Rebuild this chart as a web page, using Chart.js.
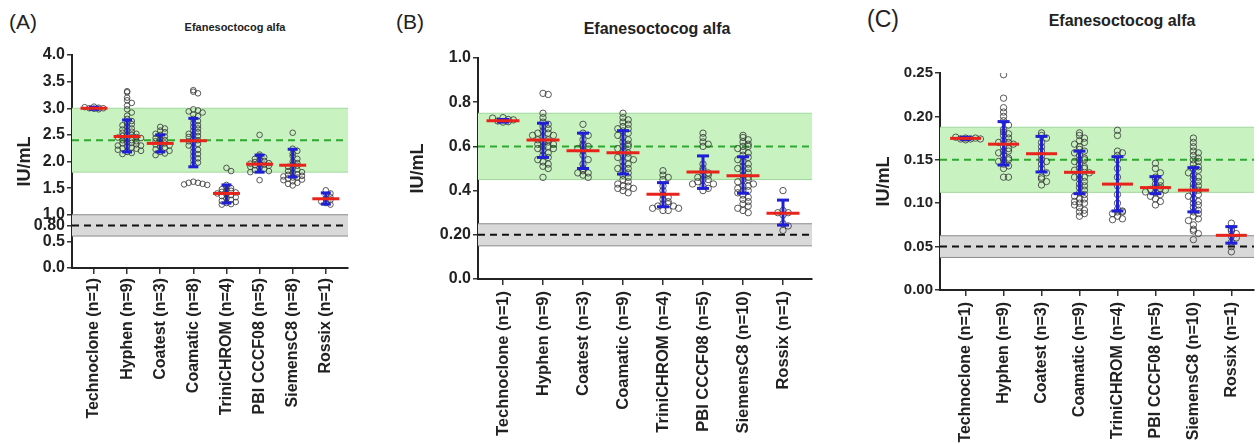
<!DOCTYPE html>
<html>
<head>
<meta charset="utf-8">
<script src="https://cdn.jsdelivr.net/npm/chart.js@4.4.0/dist/chart.umd.min.js"></script>
<style>
body { margin: 0; background: #fff; width: 1259px; height: 444px; overflow: hidden; position: relative; font-family: "Liberation Sans", Arial, sans-serif; color: #222; }
canvas { position: absolute; top: 0; }
.tag { position: absolute; line-height: 1; white-space: nowrap; }
.ttl { position: absolute; line-height: 1; font-weight: bold; white-space: nowrap; transform: translateX(-50%); }
</style>
</head>
<body>
<div class="tag" style="left:9px;top:11px;font-size:21px">(A)</div>
<div class="tag" style="left:396px;top:11px;font-size:21px">(B)</div>
<div class="tag" style="left:867px;top:8px;font-size:23px">(C)</div>
<div class="ttl" style="left:235px;top:22px;font-size:11px">Efanesoctocog alfa</div>
<div class="ttl" style="left:657px;top:21px;font-size:16px">Efanesoctocog alfa</div>
<div class="ttl" style="left:1122px;top:13px;font-size:16px">Efanesoctocog alfa</div>
<canvas id="chartA" width="390" height="444" style="left:0px"></canvas>
<canvas id="chartB" width="435" height="444" style="left:395px"></canvas>
<canvas id="chartC" width="424" height="444" style="left:835px"></canvas>
<script>
// assay names (n = number of labs)
const assaysA = ['Technoclone (n=1)', 'Hyphen (n=9)', 'Coatest (n=3)', 'Coamatic (n=8)', 'TriniCHROM (n=4)', 'PBI CCCF08 (n=5)', 'SiemensC8 (n=8)', 'Rossix (n=1)'];
const assaysBC = ['Technoclone (n=1)', 'Hyphen (n=9)', 'Coatest (n=3)', 'Coamatic (n=9)', 'TriniCHROM (n=4)', 'PBI CCCF08 (n=5)', 'SiemensC8 (n=10)', 'Rossix (n=1)'];

// y ticks
const yTicksA = [0, 0.5, 0.8, 1.0, 1.5, 2.0, 2.5, 3.0, 3.5, 4.0];
const yTicksB = [0, 0.2, 0.4, 0.6, 0.8, 1.0];
const yTicksC = [0, 0.05, 0.10, 0.15, 0.20, 0.25];

// target level +/- range (green) and nominal level +/- range (grey)
const greenA = [1.8, 3.0], greenMidA = 2.4, greyA = [0.6, 1.0], greyMidA = 0.8;
const greenB = [0.45, 0.75], greenMidB = 0.6, greyB = [0.15, 0.25], greyMidB = 0.2;
const greenC = [0.1125, 0.1875], greenMidC = 0.15, greyC = [0.0375, 0.0625], greyMidC = 0.05;

// mean and mean-SD / mean+SD per assay
const meanA = [3.0, 2.47, 2.34, 2.39, 1.40, 1.95, 1.93, 1.30];
const sdLowA = [2.98, 2.18, 2.18, 1.90, 1.22, 1.80, 1.71, 1.20];
const sdHighA = [3.02, 2.78, 2.50, 2.81, 1.56, 2.12, 2.23, 1.41];

const meanB = [0.716, 0.629, 0.58, 0.571, 0.383, 0.484, 0.467, 0.297];
const sdLowB = [0.71, 0.55, 0.50, 0.475, 0.327, 0.41, 0.388, 0.244];
const sdHighB = [0.722, 0.705, 0.66, 0.671, 0.436, 0.557, 0.553, 0.357];

const meanC = [0.1747, 0.168, 0.157, 0.1356, 0.122, 0.118, 0.115, 0.063];
const sdLowC = [0.1735, 0.144, 0.136, 0.111, 0.091, 0.111, 0.090, 0.054];
const sdHighC = [0.176, 0.194, 0.177, 0.160, 0.1536, 0.1306, 0.141, 0.073];

// individual results per assay
const pointsA = [
    [3.03, 3.01, 3.0, 2.99, 3.0, 3.02, 2.98],
    [3.32, 3.3, 3.2, 3.15, 3.1, 3.05, 2.98, 2.92, 2.86, 2.8, 2.76, 2.72, 2.7, 2.68, 2.66, 2.62, 2.6, 2.58, 2.56, 2.54, 2.52, 2.5, 2.5, 2.48, 2.46, 2.45, 2.44, 2.42, 2.4, 2.4, 2.38, 2.36, 2.35, 2.34, 2.32, 2.3, 2.3, 2.28, 2.26, 2.25, 2.24, 2.22, 2.2, 2.18, 2.16, 2.14],
    [2.65, 2.62, 2.58, 2.55, 2.52, 2.5, 2.47, 2.44, 2.42, 2.4, 2.38, 2.36, 2.34, 2.32, 2.3, 2.28, 2.26, 2.23, 2.2, 2.18, 2.15, 2.12],
    [3.34, 3.31, 3.28, 2.98, 2.96, 2.94, 2.92, 2.88, 2.85, 2.8, 2.76, 2.72, 2.68, 2.65, 2.62, 2.58, 2.55, 2.52, 2.5, 2.48, 2.46, 2.43, 2.4, 2.38, 2.36, 2.33, 2.3, 2.26, 2.22, 2.18, 2.14, 2.1, 2.06, 2.02, 1.98, 1.94, 1.62, 1.6, 1.6, 1.58, 1.57, 1.56],
    [1.88, 1.82, 1.56, 1.52, 1.5, 1.48, 1.46, 1.45, 1.43, 1.42, 1.4, 1.38, 1.37, 1.35, 1.33, 1.3, 1.28, 1.26, 1.24, 1.22, 1.2, 1.19],
    [2.5, 2.13, 2.1, 2.08, 2.05, 2.03, 2.01, 1.99, 1.97, 1.96, 1.95, 1.94, 1.93, 1.92, 1.9, 1.88, 1.86, 1.84, 1.82, 1.8, 1.65],
    [2.54, 2.24, 2.2, 2.15, 2.1, 2.05, 2.0, 1.97, 1.95, 1.92, 1.9, 1.87, 1.85, 1.82, 1.8, 1.78, 1.76, 1.75, 1.73, 1.72, 1.7, 1.7, 1.68, 1.66, 1.65, 1.63, 1.6, 1.58, 1.55],
    [1.46, 1.4, 1.36, 1.33, 1.3, 1.28, 1.25, 1.22, 1.19]
];
const pointsB = [
    [0.73, 0.722, 0.715, 0.71, 0.72, 0.728, 0.712],
    [0.84, 0.835, 0.75, 0.73, 0.71, 0.7, 0.69, 0.68, 0.67, 0.66, 0.66, 0.65, 0.65, 0.64, 0.63, 0.63, 0.62, 0.62, 0.61, 0.61, 0.6, 0.6, 0.59, 0.59, 0.58, 0.57, 0.56, 0.55, 0.54, 0.53, 0.52, 0.51, 0.5, 0.46],
    [0.7, 0.66, 0.65, 0.63, 0.61, 0.6, 0.6, 0.59, 0.58, 0.56, 0.54, 0.52, 0.5, 0.49, 0.48, 0.48, 0.47, 0.46],
    [0.75, 0.73, 0.72, 0.71, 0.7, 0.69, 0.68, 0.68, 0.67, 0.66, 0.65, 0.64, 0.63, 0.62, 0.61, 0.6, 0.6, 0.59, 0.58, 0.57, 0.56, 0.55, 0.55, 0.54, 0.53, 0.52, 0.51, 0.5, 0.5, 0.49, 0.48, 0.47, 0.46, 0.45, 0.44, 0.43, 0.42, 0.42, 0.41, 0.41, 0.4, 0.39],
    [0.49, 0.47, 0.46, 0.45, 0.42, 0.4, 0.38, 0.37, 0.36, 0.35, 0.34, 0.34, 0.33, 0.33, 0.32, 0.32, 0.31, 0.31],
    [0.66, 0.64, 0.62, 0.61, 0.6, 0.52, 0.5, 0.49, 0.48, 0.47, 0.47, 0.46, 0.45, 0.45, 0.44, 0.43, 0.43, 0.42, 0.41, 0.4],
    [0.65, 0.64, 0.63, 0.62, 0.61, 0.6, 0.6, 0.59, 0.58, 0.57, 0.56, 0.55, 0.54, 0.53, 0.52, 0.51, 0.5, 0.5, 0.49, 0.48, 0.47, 0.46, 0.45, 0.45, 0.44, 0.43, 0.42, 0.42, 0.41, 0.4, 0.4, 0.39, 0.38, 0.37, 0.36, 0.35, 0.34, 0.33, 0.32, 0.31, 0.3],
    [0.4, 0.31, 0.3, 0.3, 0.29, 0.25, 0.24, 0.22]
];
const pointsC = [
    [0.175, 0.174, 0.174, 0.173, 0.175, 0.176, 0.174],
    [0.248, 0.221, 0.21, 0.205, 0.2, 0.195, 0.19, 0.185, 0.182, 0.18, 0.178, 0.175, 0.172, 0.17, 0.17, 0.168, 0.165, 0.163, 0.16, 0.16, 0.158, 0.155, 0.152, 0.15, 0.15, 0.148, 0.145, 0.143, 0.14, 0.13, 0.13],
    [0.181, 0.178, 0.175, 0.17, 0.165, 0.16, 0.155, 0.15, 0.148, 0.145, 0.14, 0.135, 0.13, 0.128, 0.125, 0.121],
    [0.181, 0.178, 0.175, 0.172, 0.17, 0.168, 0.165, 0.162, 0.16, 0.158, 0.155, 0.152, 0.15, 0.15, 0.148, 0.145, 0.142, 0.14, 0.14, 0.138, 0.135, 0.132, 0.13, 0.13, 0.128, 0.125, 0.122, 0.12, 0.118, 0.115, 0.112, 0.11, 0.108, 0.105, 0.105, 0.102, 0.1, 0.1, 0.098, 0.095, 0.092, 0.09, 0.088, 0.085],
    [0.184, 0.178, 0.16, 0.158, 0.155, 0.15, 0.14, 0.13, 0.12, 0.11, 0.1, 0.093, 0.091, 0.09, 0.09, 0.088, 0.085, 0.082, 0.081],
    [0.146, 0.14, 0.135, 0.13, 0.128, 0.125, 0.122, 0.12, 0.118, 0.117, 0.116, 0.115, 0.113, 0.112, 0.11, 0.108, 0.105, 0.102, 0.098],
    [0.175, 0.17, 0.165, 0.16, 0.158, 0.155, 0.152, 0.15, 0.148, 0.145, 0.142, 0.14, 0.138, 0.135, 0.132, 0.13, 0.128, 0.125, 0.122, 0.12, 0.118, 0.115, 0.112, 0.11, 0.108, 0.105, 0.102, 0.1, 0.098, 0.095, 0.092, 0.09, 0.088, 0.085, 0.082, 0.08, 0.075, 0.07, 0.068, 0.065, 0.058],
    [0.077, 0.07, 0.068, 0.065, 0.062, 0.06, 0.055, 0.05, 0.044]
];

// Spread points sideways so equal values don't sit on top of each other (beeswarm)
function swarm(values, bin, step) {
    const rows = {};
    return values.map(v => {
        const k = Math.round(v / bin);
        const i = rows[k] = (rows[k] === undefined ? 0 : rows[k] + 1);
        const off = i === 0 ? 0 : (i % 2 ? 1 : -1) * Math.ceil(i / 2) * step;
        return { x: off, y: v };
    });
}

function hLine(ctx, x1, x2, y) {
    ctx.beginPath();
    ctx.moveTo(x1, y);
    ctx.lineTo(x2, y);
    ctx.stroke();
}

// Reference bands, dashed lines and mean +/- SD bars
function refPlugin(p) {
    return {
        id: 'refLines',
        beforeDatasetsDraw(chart) {
            const { ctx, chartArea: a, scales: { y } } = chart;
            ctx.save();
            [[p.green, '#c8f3c1', '#a3d89d'], [p.grey, '#d9d9d9', '#8c8c8c']].forEach(([r, fill, line]) => {
                const top = y.getPixelForValue(r[1]);
                const bot = y.getPixelForValue(r[0]);
                ctx.fillStyle = fill;
                ctx.fillRect(a.left, top, a.right - a.left, bot - top);
                ctx.strokeStyle = line;
                ctx.lineWidth = 1;
                hLine(ctx, a.left, a.right, top);
                hLine(ctx, a.left, a.right, bot);
            });
            ctx.lineWidth = 2;
            ctx.setLineDash([7, 5]);
            ctx.strokeStyle = '#2ea82e';
            hLine(ctx, a.left, a.right, y.getPixelForValue(p.greenMid));
            ctx.strokeStyle = '#111';
            hLine(ctx, a.left, a.right, y.getPixelForValue(p.greyMid));
            ctx.restore();
        },
        afterDatasetsDraw(chart) {
            const { ctx, scales: { x, y } } = chart;
            ctx.save();
            ctx.lineWidth = 3;
            ctx.strokeStyle = '#1f1fd6';
            p.mean.forEach((m, i) => {
                const cx = x.getPixelForValue(i);
                const yl = y.getPixelForValue(p.sdLow[i]);
                const yh = y.getPixelForValue(p.sdHigh[i]);
                ctx.beginPath();
                ctx.moveTo(cx, yl);
                ctx.lineTo(cx, yh);
                ctx.stroke();
                hLine(ctx, cx - p.cap / 2, cx + p.cap / 2, yl);
                hLine(ctx, cx - p.cap / 2, cx + p.cap / 2, yh);
            });
            ctx.strokeStyle = '#e8231b';
            p.mean.forEach((m, i) => {
                const cx = x.getPixelForValue(i);
                hLine(ctx, cx - p.meanW / 2, cx + p.meanW / 2, y.getPixelForValue(m));
            });
            ctx.restore();
        }
    };
}

function makePanel(id, p) {
    const pts = [];
    p.points.forEach((vals, i) => {
        swarm(vals, p.bin, p.step).forEach(s => pts.push({ x: i + s.x, y: s.y }));
    });
    const tickFont = { family: '"Liberation Sans", Arial, sans-serif', weight: 'bold', size: p.tickSize };
    new Chart(document.getElementById(id), {
        type: 'scatter',
        data: {
            datasets: [{
                data: pts,
                pointRadius: p.radius,
                pointBorderWidth: 1,
                pointBorderColor: 'rgba(60,60,60,0.85)',
                pointBackgroundColor: 'rgba(0,0,0,0)'
            }]
        },
        options: {
            responsive: false,
            animation: false,
            layout: { padding: { left: 0, right: p.padRight, top: p.padTop, bottom: 0 } },
            plugins: { legend: { display: false }, tooltip: { enabled: false } },
            scales: {
                x: {
                    type: 'linear',
                    min: p.xMin,
                    max: p.xMax,
                    afterBuildTicks: s => { s.ticks = p.cats.map((c, i) => ({ value: i })); },
                    afterFit: s => { s.height = p.xAxisH; s.paddingLeft = 0; s.paddingRight = 0; },
                    ticks: {
                        callback: v => p.cats[v],
                        minRotation: 90,
                        maxRotation: 90,
                        autoSkip: false,
                        padding: p.xPad,
                        color: '#222',
                        font: { family: tickFont.family, weight: 'bold', size: p.catSize }
                    },
                    grid: { drawOnChartArea: false, drawTicks: true, tickLength: 6, color: '#333', lineWidth: 1.5 },
                    border: { color: '#222', width: 2 }
                },
                y: {
                    min: 0,
                    max: p.yMax,
                    afterBuildTicks: s => { s.ticks = p.yTicks.map(v => ({ value: v })); },
                    afterFit: s => { s.width = p.yAxisW; },
                    ticks: {
                        callback: p.yLabel,
                        autoSkip: false,
                        padding: 2,
                        color: '#222',
                        font: tickFont
                    },
                    grid: { drawOnChartArea: false, drawTicks: true, tickLength: 5, color: '#333', lineWidth: 1.5 },
                    border: { color: '#222', width: 2 },
                    title: {
                        display: true,
                        text: 'IU/mL',
                        color: '#222',
                        padding: { top: p.titlePad, bottom: 0 },
                        font: { family: tickFont.family, weight: 'bold', size: 18 }
                    }
                }
            }
        },
        plugins: [refPlugin(p)]
    });
}

makePanel('chartA', {
    cats: assaysA, points: pointsA, mean: meanA, sdLow: sdLowA, sdHigh: sdHighA,
    green: greenA, greenMid: greenMidA, grey: greyA, greyMid: greyMidA,
    yTicks: yTicksA, yMax: 4.0, yLabel: v => v === 0.8 ? '0.80' : v.toFixed(1),
    xMin: -0.664, xMax: 7.67, yAxisW: 72, padRight: 42, padTop: 55, xAxisH: 176,
    bin: 0.08, step: 0.14, radius: 2.8, cap: 10, meanW: 27,
    tickSize: 16, catSize: 16, xPad: 4, titlePad: 14
});

makePanel('chartB', {
    cats: assaysBC, points: pointsB, mean: meanB, sdLow: sdLowB, sdHigh: sdHighB,
    green: greenB, greenMid: greenMidB, grey: greyB, greyMid: greyMidB,
    yTicks: yTicksB, yMax: 1.0, yLabel: v => v === 0.2 ? '0.20' : v.toFixed(1),
    xMin: -0.625, xMax: 7.725, yAxisW: 83, padRight: 18, padTop: 58, xAxisH: 165,
    bin: 0.022, step: 0.13, radius: 3.2, cap: 12, meanW: 33,
    tickSize: 16, catSize: 16.5, xPad: 6, titlePad: 12
});

makePanel('chartC', {
    cats: assaysBC, points: pointsC, mean: meanC, sdLow: sdLowC, sdHigh: sdHighC,
    green: greenC, greenMid: greenMidC, grey: greyC, greyMid: greyMidC,
    yTicks: yTicksC, yMax: 0.25, yLabel: v => v.toFixed(2),
    xMin: -0.674, xMax: 7.596, yAxisW: 105, padRight: 0, padTop: 73, xAxisH: 154,
    bin: 0.0055, step: 0.13, radius: 3.2, cap: 12, meanW: 31,
    tickSize: 15, catSize: 16, xPad: 6, titlePad: 38
});
</script>
</body>
</html>
